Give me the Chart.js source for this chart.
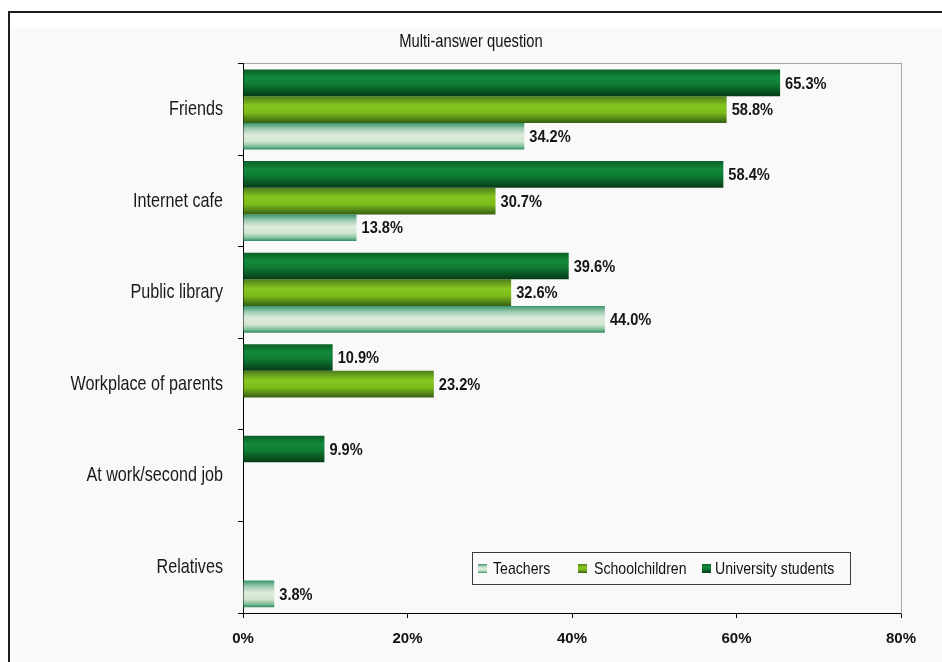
<!DOCTYPE html>
<html>
<head>
<meta charset="utf-8">
<title>Multi-answer question</title>
<script src="https://cdn.jsdelivr.net/npm/chart.js@4.4.1/dist/chart.umd.min.js"></script>
<style>
  html, body { margin: 0; padding: 0; background: #fff; }
  #frame {
    position: absolute; left: 8px; top: 11px; width: 1000px; height: 700px;
    border-left: 2px solid #1e1e1e; border-top: 2px solid #1e1e1e;
    background: linear-gradient(#fff 0, #fff 14px, #f9f9f9 17px);
  }
  #wrap { position: absolute; left: 0; top: 0; width: 942px; height: 662px; }
</style>
</head>
<body>
<div id="frame"></div>
<div id="wrap"><canvas id="chart" width="942" height="662"></canvas></div>
<script>
const categories = ['Friends', 'Internet cafe', 'Public library', 'Workplace of parents', 'At work/second job', 'Relatives'];
const university = [65.3, 58.4, 39.6, 10.9, 9.9, null];
const schoolchildren = [58.8, 30.7, 32.6, 23.2, null, null];
const teachers = [34.2, 13.8, 44.0, null, null, 3.8];
const xTicks = [0, 20, 40, 60, 80];

const SANS = "'Liberation Sans', Arial, sans-serif";
const CAT_PCT = 0.874;

// bands of colour across the thickness of each bar
const darkStops = [[0, '#0b5e26'], [0.3, '#12893b'], [0.55, '#0f7c35'], [1, '#053a16']];
const midStops = [[0, '#4f7f1c'], [0.35, '#86c61f'], [0.62, '#7cbc1a'], [1, '#365f12']];
const lightStops = [[0, '#35956a'], [0.22, '#9fcbb1'], [0.45, '#deebdb'], [0.7, '#d2e5d0'], [0.88, '#7fbf99'], [1, '#2d8c5e']];

function fillStops(ctx, top, h, stops) {
  const g = ctx.createLinearGradient(0, top, 0, top + h);
  stops.forEach(s => g.addColorStop(s[0], s[1]));
  return g;
}

function barGradient(stops) {
  return function (c) {
    const chart = c.chart;
    const y = chart.scales.y;
    if (!chart.chartArea || c.type !== 'data' || !y) return stops[1][1];
    const band = (y.bottom - y.top) / categories.length;
    const size = band * CAT_PCT / 3;
    const top = y.getPixelForValue(c.dataIndex) - band * CAT_PCT / 2 + c.datasetIndex * size;
    return fillStops(chart.ctx, top, size, stops);
  };
}

// no narrow face installed, so condense text horizontally around an anchor
function squeeze(ctx, ax, k, fn) {
  ctx.save();
  ctx.translate(ax, 0);
  ctx.scale(k, 1);
  ctx.translate(-ax, 0);
  fn();
  ctx.restore();
}

const narrowText = {
  id: 'narrowText',
  afterLayout(chart) {
    const y = chart.scales.y;
    if (y && !y._narrow) {
      const drawLabels = y.drawLabels;
      y.drawLabels = function (area) {
        squeeze(this.ctx, this.right - 20, 0.77, () => drawLabels.call(this, area));
      };
      y._narrow = true;
    }
    const t = chart.titleBlock;
    if (t && !t._narrow) {
      const draw = t.draw;
      t.draw = function () {
        squeeze(this.ctx, (this.left + this.right) / 2, 0.82, () => draw.call(this));
      };
      t._narrow = true;
    }
  }
};

const valueLabels = {
  id: 'valueLabels',
  afterDatasetsDraw(chart) {
    const ctx = chart.ctx;
    ctx.save();
    ctx.font = 'bold 17px ' + SANS;
    ctx.fillStyle = '#151515';
    ctx.textBaseline = 'middle';
    ctx.textAlign = 'left';
    chart.data.datasets.forEach((ds, di) => {
      chart.getDatasetMeta(di).data.forEach((bar, i) => {
        const v = ds.data[i];
        if (v == null) return;
        const x = bar.x + 5;
        squeeze(ctx, x, 0.86, () => ctx.fillText(v.toFixed(1) + '%', x, bar.y + 1));
      });
    });
    ctx.restore();
  }
};

// legend box sitting inside the plot, bottom right
const boxLegend = {
  id: 'boxLegend',
  afterDraw(chart) {
    const ctx = chart.ctx;
    const a = chart.chartArea;
    const left = a.left + 229, top = a.bottom - 61, w = 378, h = 32;
    ctx.save();
    ctx.fillStyle = '#fafafa';
    ctx.fillRect(left, top, w, h);
    ctx.strokeStyle = '#3c3c3c';
    ctx.lineWidth = 1;
    ctx.strokeRect(left + 0.5, top + 0.5, w, h);
    const items = [
      { label: 'Teachers', stops: lightStops, sx: 6, tx: 21 },
      { label: 'Schoolchildren', stops: midStops, sx: 106, tx: 122 },
      { label: 'University students', stops: darkStops, sx: 230, tx: 243 }
    ];
    ctx.font = '17px ' + SANS;
    ctx.textBaseline = 'middle';
    items.forEach(it => {
      const sy = top + h / 2 - 4;
      ctx.fillStyle = fillStops(ctx, sy, 9, it.stops);
      ctx.fillRect(left + it.sx, sy, 9, 9);
      ctx.fillStyle = '#111';
      const tx = left + it.tx;
      squeeze(ctx, tx, 0.83, () => ctx.fillText(it.label, tx, top + h / 2 + 1));
    });
    ctx.restore();
  }
};

const data = {
  labels: categories,
  datasets: [
    { label: 'University students', data: university, backgroundColor: barGradient(darkStops) },
    { label: 'Schoolchildren', data: schoolchildren, backgroundColor: barGradient(midStops) },
    { label: 'Teachers', data: teachers, backgroundColor: barGradient(lightStops) }
  ]
};

const config = {
  type: 'bar',
  data: data,
  options: {
    indexAxis: 'y',
    responsive: false,
    devicePixelRatio: 1,
    animation: false,
    datasets: {
      bar: { barPercentage: 1, categoryPercentage: CAT_PCT, borderWidth: 0 }
    },
    layout: { padding: 0 },
    scales: {
      x: {
        type: 'linear', position: 'bottom', min: 0, max: 80,
        afterBuildTicks: s => { s.ticks = xTicks.map(v => ({ value: v })); },
        ticks: {
          callback: v => v + '%',
          font: { family: SANS, size: 15, weight: 'bold' },
          color: '#111', padding: 12, maxRotation: 0
        },
        grid: { drawOnChartArea: false, tickLength: 5, color: '#000' },
        border: { color: '#000', width: 1 },
        afterFit: s => { s.height = 49; }
      },
      xTop: {
        type: 'linear', position: 'top', min: 0, max: 80,
        ticks: { display: false },
        grid: { drawOnChartArea: false, drawTicks: false },
        border: { color: '#a6a6a6', width: 1 },
        afterFit: s => { s.height = 11.2; }
      },
      y: {
        type: 'category', position: 'left',
        ticks: { font: { family: SANS, size: 21 }, color: '#1a1a1a', padding: 15 },
        grid: { drawOnChartArea: false, tickLength: 5, color: '#000', offset: true },
        border: { color: '#000', width: 1 },
        afterFit: s => { s.width = 243; }
      },
      yRight: {
        type: 'linear', position: 'right', min: 0, max: 1,
        ticks: { display: false },
        grid: { drawOnChartArea: false, drawTicks: false },
        border: { color: '#a6a6a6', width: 1 },
        afterFit: s => { s.width = 41; }
      }
    },
    plugins: {
      legend: { display: false },
      tooltip: { enabled: false },
      title: {
        display: true,
        text: 'Multi-answer question',
        color: '#111',
        font: { family: SANS, size: 18, weight: 'normal' },
        padding: { top: 31, bottom: 0 }
      }
    }
  },
  plugins: [narrowText, valueLabels, boxLegend]
};

var chart = new Chart(document.getElementById('chart').getContext('2d'), config);
</script>
</body>
</html>
